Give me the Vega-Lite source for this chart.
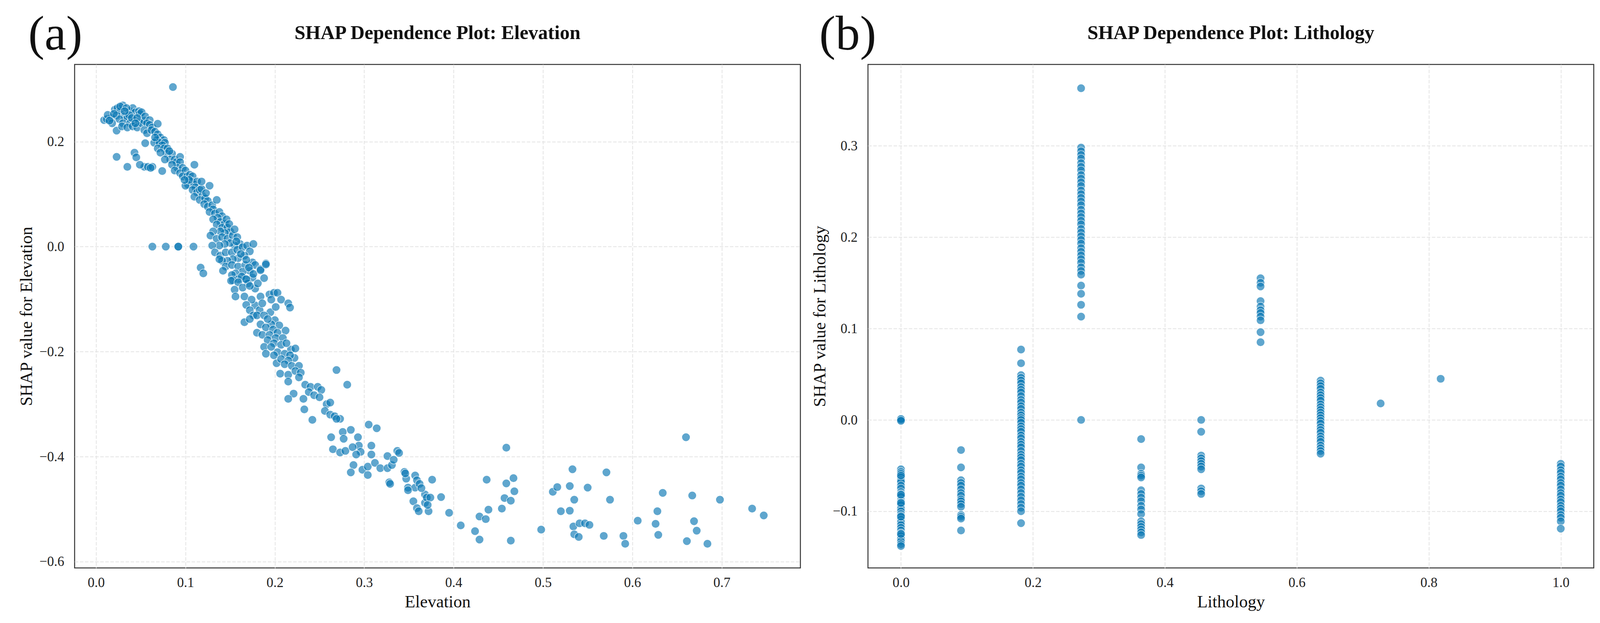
{
  "$schema": "https://vega.github.io/schema/vega-lite/v6.json",
  "background": "white",
  "padding": {"left": 45, "top": 26, "right": 37, "bottom": 20},
  "datasets": {
    "elev": [
      {"value":0.009,"shap":0.241},{"value":0.012,"shap":0.243},{"value":0.017,"shap":0.245},{"value":0.021,"shap":0.261},{"value":0.024,"shap":0.264},{"value":0.027,"shap":0.258},{"value":0.030,"shap":0.269},{"value":0.032,"shap":0.248},{"value":0.035,"shap":0.245},{"value":0.038,"shap":0.258},{"value":0.041,"shap":0.264},{"value":0.044,"shap":0.256},{"value":0.048,"shap":0.258},{"value":0.049,"shap":0.253},{"value":0.051,"shap":0.256},{"value":0.023,"shap":0.250},{"value":0.026,"shap":0.243},{"value":0.018,"shap":0.235},{"value":0.030,"shap":0.235},{"value":0.038,"shap":0.235},{"value":0.043,"shap":0.240},{"value":0.048,"shap":0.237},{"value":0.023,"shap":0.221},{"value":0.029,"shap":0.229},{"value":0.035,"shap":0.227},{"value":0.041,"shap":0.229},{"value":0.046,"shap":0.227},{"value":0.051,"shap":0.235},{"value":0.054,"shap":0.240},{"value":0.055,"shap":0.248},{"value":0.013,"shap":0.251},{"value":0.020,"shap":0.253},{"value":0.027,"shap":0.267},{"value":0.034,"shap":0.264},{"value":0.037,"shap":0.251},{"value":0.040,"shap":0.245},{"value":0.046,"shap":0.245},{"value":0.032,"shap":0.258},{"value":0.044,"shap":0.235},{"value":0.015,"shap":0.240},{"value":0.060,"shap":0.241},
      {"value":0.057,"shap":0.235},{"value":0.060,"shap":0.232},{"value":0.063,"shap":0.227},{"value":0.069,"shap":0.234},{"value":0.054,"shap":0.222},{"value":0.057,"shap":0.216},{"value":0.062,"shap":0.222},{"value":0.066,"shap":0.219},{"value":0.069,"shap":0.214},{"value":0.072,"shap":0.208},{"value":0.076,"shap":0.203},{"value":0.068,"shap":0.203},{"value":0.065,"shap":0.198},{"value":0.071,"shap":0.198},{"value":0.077,"shap":0.198},{"value":0.074,"shap":0.193},{"value":0.069,"shap":0.187},{"value":0.076,"shap":0.187},{"value":0.080,"shap":0.187},{"value":0.079,"shap":0.177},{"value":0.072,"shap":0.179},{"value":0.085,"shap":0.177},{"value":0.083,"shap":0.166},{"value":0.077,"shap":0.166},{"value":0.088,"shap":0.166},{"value":0.090,"shap":0.161},{"value":0.094,"shap":0.171},{"value":0.094,"shap":0.161},{"value":0.091,"shap":0.150},{"value":0.097,"shap":0.150},{"value":0.085,"shap":0.156},{"value":0.088,"shap":0.145},{"value":0.094,"shap":0.140},{"value":0.100,"shap":0.145},{"value":0.097,"shap":0.134},{"value":0.102,"shap":0.134},{"value":0.105,"shap":0.137},{"value":0.108,"shap":0.134},{"value":0.107,"shap":0.124},{"value":0.103,"shap":0.118},{"value":0.100,"shap":0.116},{"value":0.110,"shap":0.118},{"value":0.113,"shap":0.124},{"value":0.111,"shap":0.113},{"value":0.108,"shap":0.108},{"value":0.113,"shap":0.103},{"value":0.116,"shap":0.108},{"value":0.119,"shap":0.097},{"value":0.110,"shap":0.095},{"value":0.116,"shap":0.089},{"value":0.122,"shap":0.092},{"value":0.125,"shap":0.087},{"value":0.121,"shap":0.081},{"value":0.125,"shap":0.076},{"value":0.130,"shap":0.079},{"value":0.131,"shap":0.071},{"value":0.127,"shap":0.066},{"value":0.133,"shap":0.063},{"value":0.138,"shap":0.066},{"value":0.141,"shap":0.058},{"value":0.136,"shap":0.055},{"value":0.131,"shap":0.052},{"value":0.139,"shap":0.047},{"value":0.144,"shap":0.044},{"value":0.135,"shap":0.042},{"value":0.141,"shap":0.036},{"value":0.147,"shap":0.036},{"value":0.150,"shap":0.029},{"value":0.144,"shap":0.026},{"value":0.139,"shap":0.029},{"value":0.131,"shap":0.029},{"value":0.128,"shap":0.021},{"value":0.135,"shap":0.015},{"value":0.141,"shap":0.018},{"value":0.147,"shap":0.015},{"value":0.153,"shap":0.021},{"value":0.158,"shap":0.018},{"value":0.161,"shap":0.005},{"value":0.155,"shap":0.002},{"value":0.150,"shap":0.007},{"value":0.144,"shap":0.005},{"value":0.138,"shap":0.002},{"value":0.130,"shap":0.002},{"value":0.133,"shap":-0.011},{"value":0.139,"shap":-0.017},{"value":0.145,"shap":-0.011},{"value":0.152,"shap":-0.011},{"value":0.158,"shap":-0.006},{"value":0.164,"shap":-0.001},{"value":0.169,"shap":0.002},{"value":0.176,"shap":0.005},{"value":0.172,"shap":-0.009},{"value":0.166,"shap":-0.017},{"value":0.159,"shap":-0.022},{"value":0.153,"shap":-0.024},{"value":0.147,"shap":-0.027},{"value":0.141,"shap":-0.027},{"value":0.138,"shap":-0.024},{"value":0.145,"shap":-0.038},{"value":0.152,"shap":-0.035},{"value":0.159,"shap":-0.038},{"value":0.167,"shap":-0.035},{"value":0.175,"shap":-0.030},{"value":0.178,"shap":-0.035},{"value":0.190,"shap":-0.032},{"value":0.184,"shap":-0.043},{"value":0.172,"shap":-0.046},{"value":0.164,"shap":-0.048},{"value":0.156,"shap":-0.051},{"value":0.152,"shap":-0.054},{"value":0.159,"shap":-0.062},{"value":0.167,"shap":-0.062},{"value":0.175,"shap":-0.059},{"value":0.153,"shap":-0.064},{"value":0.142,"shap":-0.046},
      {"value":0.146,"shap":0.052},{"value":0.149,"shap":0.043},{"value":0.155,"shap":0.033},{"value":0.157,"shap":0.010},{"value":0.162,"shap":-0.014},{"value":0.168,"shap":-0.025},{"value":0.171,"shap":-0.040},{"value":0.163,"shap":-0.057},{"value":0.170,"shap":-0.070},{"value":0.178,"shap":-0.080},{"value":0.181,"shap":-0.070},{"value":0.188,"shap":-0.060},{"value":0.178,"shap":-0.112},{"value":0.183,"shap":-0.121},{"value":0.195,"shap":-0.125},{"value":0.200,"shap":-0.140},{"value":0.205,"shap":-0.150},{"value":0.196,"shap":-0.148},{"value":0.212,"shap":-0.160},{"value":0.218,"shap":-0.196},{"value":0.202,"shap":-0.222},{"value":0.222,"shap":-0.212},{"value":0.118,"shap":0.110},{"value":0.123,"shap":0.102},{"value":0.104,"shap":0.127},{"value":0.099,"shap":0.127},{"value":0.082,"shap":0.182},{"value":0.066,"shap":0.208},
      {"value":0.110,"shap":0.156},{"value":0.118,"shap":0.124},{"value":0.127,"shap":0.116},{"value":0.135,"shap":0.089},{"value":0.055,"shap":0.197},{"value":0.074,"shap":0.144},{"value":0.023,"shap":0.171},{"value":0.035,"shap":0.152},{"value":0.043,"shap":0.179},{"value":0.045,"shap":0.170},{"value":0.054,"shap":0.152},{"value":0.058,"shap":0.152},{"value":0.063,"shap":0.152},{"value":0.049,"shap":0.156},{"value":0.061,"shap":0.150},{"value":0.063,"shap":0.0},{"value":0.078,"shap":0.0},{"value":0.092,"shap":0.0},{"value":0.092,"shap":0.0},{"value":0.109,"shap":0.0},{"value":0.117,"shap":-0.040},{"value":0.120,"shap":-0.051},{"value":0.086,"shap":0.304},
      {"value":0.151,"shap":-0.065},{"value":0.159,"shap":-0.068},{"value":0.168,"shap":-0.062},{"value":0.176,"shap":-0.052},{"value":0.184,"shap":-0.045},{"value":0.190,"shap":-0.034},{"value":0.155,"shap":-0.082},{"value":0.164,"shap":-0.078},{"value":0.172,"shap":-0.075},{"value":0.156,"shap":-0.095},{"value":0.166,"shap":-0.095},{"value":0.174,"shap":-0.101},{"value":0.184,"shap":-0.095},{"value":0.186,"shap":-0.108},{"value":0.194,"shap":-0.091},{"value":0.199,"shap":-0.088},{"value":0.203,"shap":-0.088},{"value":0.196,"shap":-0.101},{"value":0.201,"shap":-0.115},{"value":0.207,"shap":-0.101},{"value":0.215,"shap":-0.108},{"value":0.217,"shap":-0.116},{"value":0.168,"shap":-0.111},{"value":0.172,"shap":-0.121},{"value":0.176,"shap":-0.131},{"value":0.166,"shap":-0.144},{"value":0.172,"shap":-0.138},{"value":0.180,"shap":-0.131},{"value":0.188,"shap":-0.131},{"value":0.192,"shap":-0.138},{"value":0.184,"shap":-0.148},{"value":0.190,"shap":-0.154},{"value":0.198,"shap":-0.158},{"value":0.180,"shap":-0.164},{"value":0.186,"shap":-0.168},{"value":0.194,"shap":-0.168},{"value":0.203,"shap":-0.164},{"value":0.201,"shap":-0.174},{"value":0.209,"shap":-0.174},{"value":0.192,"shap":-0.178},{"value":0.199,"shap":-0.184},{"value":0.188,"shap":-0.191},{"value":0.196,"shap":-0.191},{"value":0.207,"shap":-0.187},{"value":0.213,"shap":-0.184},{"value":0.223,"shap":-0.194},{"value":0.190,"shap":-0.204},{"value":0.203,"shap":-0.201},{"value":0.211,"shap":-0.204},{"value":0.217,"shap":-0.207},{"value":0.199,"shap":-0.207},{"value":0.207,"shap":-0.214},{"value":0.215,"shap":-0.217},{"value":0.211,"shap":-0.224},{"value":0.219,"shap":-0.227},{"value":0.227,"shap":-0.227},{"value":0.206,"shap":-0.242},{"value":0.215,"shap":-0.244},{"value":0.223,"shap":-0.237},{"value":0.229,"shap":-0.240},{"value":0.269,"shap":-0.235},{"value":0.281,"shap":-0.263},{"value":0.215,"shap":-0.257},{"value":0.227,"shap":-0.249},{"value":0.234,"shap":-0.263},{"value":0.240,"shap":-0.267},{"value":0.248,"shap":-0.267},{"value":0.252,"shap":-0.273},{"value":0.238,"shap":-0.277},{"value":0.244,"shap":-0.283},{"value":0.250,"shap":-0.287},{"value":0.221,"shap":-0.280},{"value":0.215,"shap":-0.290},{"value":0.232,"shap":-0.290},{"value":0.233,"shap":-0.310},{"value":0.242,"shap":-0.330},{"value":0.258,"shap":-0.300},{"value":0.262,"shap":-0.297},{"value":0.256,"shap":-0.313},{"value":0.262,"shap":-0.320},{"value":0.267,"shap":-0.323},{"value":0.273,"shap":-0.328},{"value":0.269,"shap":-0.328},{"value":0.263,"shap":-0.363},{"value":0.276,"shap":-0.353},{"value":0.285,"shap":-0.349},{"value":0.277,"shap":-0.366},{"value":0.293,"shap":-0.363},{"value":0.294,"shap":-0.379},{"value":0.296,"shap":-0.391},{"value":0.305,"shap":-0.339},{"value":0.314,"shap":-0.346},{"value":0.265,"shap":-0.386},{"value":0.273,"shap":-0.392},{"value":0.279,"shap":-0.389},{"value":0.287,"shap":-0.382},{"value":0.291,"shap":-0.396},{"value":0.308,"shap":-0.379},{"value":0.308,"shap":-0.396},{"value":0.288,"shap":-0.416},{"value":0.285,"shap":-0.430},{"value":0.298,"shap":-0.425},{"value":0.304,"shap":-0.419},{"value":0.304,"shap":-0.435},{"value":0.312,"shap":-0.412},{"value":0.318,"shap":-0.422},{"value":0.326,"shap":-0.422},{"value":0.326,"shap":-0.399},{"value":0.337,"shap":-0.389},{"value":0.331,"shap":-0.416},{"value":0.333,"shap":-0.406},{"value":0.328,"shap":-0.449},{"value":0.329,"shap":-0.452},{"value":0.345,"shap":-0.429},{"value":0.347,"shap":-0.442},{"value":0.349,"shap":-0.459},{"value":0.357,"shap":-0.459},{"value":0.357,"shap":-0.436},{"value":0.359,"shap":-0.445},{"value":0.362,"shap":-0.452},{"value":0.355,"shap":-0.485},{"value":0.359,"shap":-0.498},{"value":0.368,"shap":-0.472},{"value":0.368,"shap":-0.488},
      {"value":0.370,"shap":-0.478},{"value":0.374,"shap":-0.478},{"value":0.376,"shap":-0.444},{"value":0.386,"shap":-0.477},{"value":0.372,"shap":-0.504},{"value":0.395,"shap":-0.507},{"value":0.361,"shap":-0.504},{"value":0.371,"shap":-0.492},{"value":0.364,"shap":-0.460},{"value":0.349,"shap":-0.464},{"value":0.346,"shap":-0.432},{"value":0.339,"shap":-0.393},{"value":0.408,"shap":-0.531},{"value":0.424,"shap":-0.542},{"value":0.429,"shap":-0.558},{"value":0.429,"shap":-0.514},{"value":0.436,"shap":-0.519},{"value":0.439,"shap":-0.501},{"value":0.437,"shap":-0.444},{"value":0.454,"shap":-0.499},{"value":0.457,"shap":-0.479},{"value":0.464,"shap":-0.484},{"value":0.459,"shap":-0.451},{"value":0.467,"shap":-0.441},{"value":0.468,"shap":-0.466},{"value":0.464,"shap":-0.560},{"value":0.459,"shap":-0.383},{"value":0.498,"shap":-0.539},{"value":0.511,"shap":-0.467},{"value":0.516,"shap":-0.458},{"value":0.520,"shap":-0.504},{"value":0.530,"shap":-0.503},{"value":0.530,"shap":-0.456},{"value":0.533,"shap":-0.424},{"value":0.535,"shap":-0.482},{"value":0.534,"shap":-0.533},{"value":0.541,"shap":-0.527},{"value":0.547,"shap":-0.527},{"value":0.552,"shap":-0.530},{"value":0.535,"shap":-0.548},{"value":0.540,"shap":-0.553},{"value":0.550,"shap":-0.459},{"value":0.571,"shap":-0.430},{"value":0.575,"shap":-0.482},{"value":0.568,"shap":-0.551},{"value":0.590,"shap":-0.551},{"value":0.592,"shap":-0.566},{"value":0.606,"shap":-0.522},{"value":0.626,"shap":-0.528},{"value":0.628,"shap":-0.504},{"value":0.629,"shap":-0.549},{"value":0.634,"shap":-0.469},{"value":0.660,"shap":-0.363},{"value":0.661,"shap":-0.561},{"value":0.667,"shap":-0.474},{"value":0.669,"shap":-0.523},{"value":0.672,"shap":-0.541},{"value":0.684,"shap":-0.566},{"value":0.698,"shap":-0.482},{"value":0.734,"shap":-0.499},{"value":0.747,"shap":-0.512}
    ],
    "litho": [
      {"value":0,"shap":0.0},{"value":0,"shap":0.0},{"value":0,"shap":0.001},{"value":0,"shap":-0.001},{"value":0,"shap":-0.054},{"value":0,"shap":-0.057},{"value":0,"shap":-0.059},{"value":0,"shap":-0.063},{"value":0,"shap":-0.066},{"value":0,"shap":-0.068},{"value":0,"shap":-0.072},{"value":0,"shap":-0.075},{"value":0,"shap":-0.079},{"value":0,"shap":-0.081},{"value":0,"shap":-0.084},{"value":0,"shap":-0.088},{"value":0,"shap":-0.090},{"value":0,"shap":-0.093},{"value":0,"shap":-0.097},{"value":0,"shap":-0.100},{"value":0,"shap":-0.103},{"value":0,"shap":-0.105},{"value":0,"shap":-0.109},{"value":0,"shap":-0.112},{"value":0,"shap":-0.115},{"value":0,"shap":-0.118},{"value":0,"shap":-0.121},{"value":0,"shap":-0.124},{"value":0,"shap":-0.127},{"value":0,"shap":-0.130},{"value":0,"shap":-0.133},{"value":0,"shap":-0.136},{"value":0,"shap":-0.138},{"value":0,"shap":-0.061},{"value":0,"shap":-0.082},{"value":0,"shap":-0.091},{"value":0,"shap":-0.106},{"value":0,"shap":-0.125},
      {"value":0.091,"shap":-0.033},{"value":0.091,"shap":-0.052},{"value":0.091,"shap":-0.066},{"value":0.091,"shap":-0.069},{"value":0.091,"shap":-0.072},{"value":0.091,"shap":-0.076},{"value":0.091,"shap":-0.080},{"value":0.091,"shap":-0.083},{"value":0.091,"shap":-0.087},{"value":0.091,"shap":-0.089},{"value":0.091,"shap":-0.092},{"value":0.091,"shap":-0.095},{"value":0.091,"shap":-0.104},{"value":0.091,"shap":-0.106},{"value":0.091,"shap":-0.108},{"value":0.091,"shap":-0.121},
      {"value":0.182,"shap":0.077},{"value":0.182,"shap":0.062},{"value":0.182,"shap":0.049},{"value":0.182,"shap":0.046},{"value":0.182,"shap":0.043},{"value":0.182,"shap":0.040},{"value":0.182,"shap":0.036},{"value":0.182,"shap":0.033},{"value":0.182,"shap":0.030},{"value":0.182,"shap":0.026},{"value":0.182,"shap":0.022},{"value":0.182,"shap":0.019},{"value":0.182,"shap":0.015},{"value":0.182,"shap":0.012},{"value":0.182,"shap":0.008},{"value":0.182,"shap":0.005},{"value":0.182,"shap":0.002},{"value":0.182,"shap":0.0},{"value":0.182,"shap":-0.003},{"value":0.182,"shap":-0.007},{"value":0.182,"shap":-0.010},{"value":0.182,"shap":-0.013},{"value":0.182,"shap":-0.017},{"value":0.182,"shap":-0.020},{"value":0.182,"shap":-0.024},{"value":0.182,"shap":-0.027},{"value":0.182,"shap":-0.030},{"value":0.182,"shap":-0.034},{"value":0.182,"shap":-0.038},{"value":0.182,"shap":-0.041},{"value":0.182,"shap":-0.044},{"value":0.182,"shap":-0.048},{"value":0.182,"shap":-0.051},{"value":0.182,"shap":-0.055},{"value":0.182,"shap":-0.058},{"value":0.182,"shap":-0.062},{"value":0.182,"shap":-0.065},{"value":0.182,"shap":-0.069},{"value":0.182,"shap":-0.072},{"value":0.182,"shap":-0.076},{"value":0.182,"shap":-0.080},{"value":0.182,"shap":-0.084},{"value":0.182,"shap":-0.088},{"value":0.182,"shap":-0.092},{"value":0.182,"shap":-0.096},{"value":0.182,"shap":-0.100},{"value":0.182,"shap":-0.113},
      {"value":0.273,"shap":0.363},{"value":0.273,"shap":0.298},{"value":0.273,"shap":0.294},{"value":0.273,"shap":0.290},{"value":0.273,"shap":0.286},{"value":0.273,"shap":0.281},{"value":0.273,"shap":0.277},{"value":0.273,"shap":0.273},{"value":0.273,"shap":0.268},{"value":0.273,"shap":0.264},{"value":0.273,"shap":0.260},{"value":0.273,"shap":0.256},{"value":0.273,"shap":0.251},{"value":0.273,"shap":0.247},{"value":0.273,"shap":0.243},{"value":0.273,"shap":0.239},{"value":0.273,"shap":0.235},{"value":0.273,"shap":0.230},{"value":0.273,"shap":0.226},{"value":0.273,"shap":0.222},{"value":0.273,"shap":0.218},{"value":0.273,"shap":0.214},{"value":0.273,"shap":0.209},{"value":0.273,"shap":0.205},{"value":0.273,"shap":0.201},{"value":0.273,"shap":0.197},{"value":0.273,"shap":0.193},{"value":0.273,"shap":0.188},{"value":0.273,"shap":0.184},{"value":0.273,"shap":0.180},{"value":0.273,"shap":0.176},{"value":0.273,"shap":0.172},{"value":0.273,"shap":0.167},{"value":0.273,"shap":0.163},{"value":0.273,"shap":0.159},{"value":0.273,"shap":0.147},{"value":0.273,"shap":0.138},{"value":0.273,"shap":0.126},{"value":0.273,"shap":0.113},{"value":0.273,"shap":0.0},
      {"value":0.364,"shap":-0.021},{"value":0.364,"shap":-0.052},{"value":0.364,"shap":-0.059},{"value":0.364,"shap":-0.061},{"value":0.364,"shap":-0.063},{"value":0.364,"shap":-0.077},{"value":0.364,"shap":-0.081},{"value":0.364,"shap":-0.085},{"value":0.364,"shap":-0.089},{"value":0.364,"shap":-0.094},{"value":0.364,"shap":-0.098},{"value":0.364,"shap":-0.103},{"value":0.364,"shap":-0.111},{"value":0.364,"shap":-0.114},{"value":0.364,"shap":-0.117},{"value":0.364,"shap":-0.120},{"value":0.364,"shap":-0.123},{"value":0.364,"shap":-0.126},
      {"value":0.455,"shap":0.0},{"value":0.455,"shap":-0.013},{"value":0.455,"shap":-0.039},{"value":0.455,"shap":-0.042},{"value":0.455,"shap":-0.045},{"value":0.455,"shap":-0.048},{"value":0.455,"shap":-0.051},{"value":0.455,"shap":-0.054},{"value":0.455,"shap":-0.075},{"value":0.455,"shap":-0.078},{"value":0.455,"shap":-0.081},
      {"value":0.545,"shap":0.155},{"value":0.545,"shap":0.150},{"value":0.545,"shap":0.146},{"value":0.545,"shap":0.130},{"value":0.545,"shap":0.124},{"value":0.545,"shap":0.120},{"value":0.545,"shap":0.117},{"value":0.545,"shap":0.113},{"value":0.545,"shap":0.109},{"value":0.545,"shap":0.096},{"value":0.545,"shap":0.085},
      {"value":0.636,"shap":0.043},{"value":0.636,"shap":0.040},{"value":0.636,"shap":0.037},{"value":0.636,"shap":0.034},{"value":0.636,"shap":0.030},{"value":0.636,"shap":0.027},{"value":0.636,"shap":0.024},{"value":0.636,"shap":0.021},{"value":0.636,"shap":0.017},{"value":0.636,"shap":0.014},{"value":0.636,"shap":0.011},{"value":0.636,"shap":0.008},{"value":0.636,"shap":0.005},{"value":0.636,"shap":0.002},{"value":0.636,"shap":-0.001},{"value":0.636,"shap":-0.004},{"value":0.636,"shap":-0.008},{"value":0.636,"shap":-0.011},{"value":0.636,"shap":-0.014},{"value":0.636,"shap":-0.018},{"value":0.636,"shap":-0.021},{"value":0.636,"shap":-0.024},{"value":0.636,"shap":-0.028},{"value":0.636,"shap":-0.031},{"value":0.636,"shap":-0.034},{"value":0.636,"shap":-0.037},
      {"value":0.727,"shap":0.018},{"value":0.818,"shap":0.045},
      {"value":1,"shap":-0.048},{"value":1,"shap":-0.051},{"value":1,"shap":-0.055},{"value":1,"shap":-0.058},{"value":1,"shap":-0.062},{"value":1,"shap":-0.065},{"value":1,"shap":-0.069},{"value":1,"shap":-0.072},{"value":1,"shap":-0.076},{"value":1,"shap":-0.080},{"value":1,"shap":-0.083},{"value":1,"shap":-0.087},{"value":1,"shap":-0.090},{"value":1,"shap":-0.094},{"value":1,"shap":-0.097},{"value":1,"shap":-0.100},{"value":1,"shap":-0.104},{"value":1,"shap":-0.107},{"value":1,"shap":-0.111},{"value":1,"shap":-0.119}
    ]
  },
  "config": {
    "font": "Liberation Serif",
    "view": {"stroke": "#333333", "strokeWidth": 2.5},
    "title": {"font": "Liberation Serif", "fontSize": 50, "fontWeight": "bold", "color": "#111111", "baseline": "alphabetic", "offset": 55},
    "axis": {
      "domain": false,
      "ticks": false,
      "grid": true,
      "gridColor": "#e3e3e3",
      "gridDash": [9, 4],
      "gridWidth": 2,
      "labelFont": "Liberation Serif",
      "labelFontSize": 35,
      "labelColor": "#222222",
      "titleFont": "Liberation Serif",
      "titleFontSize": 44,
      "titleFontWeight": "normal",
      "titleColor": "#111111"
    },
    "axisX": {"labelPadding": 20, "titlePadding": 10},
    "axisY": {"labelPadding": 27, "titlePadding": 10}
  },
  "spacing": 25,
  "hconcat": [
    {
      "title": {"text": "(a)", "anchor": "start", "fontSize": 125, "fontWeight": "normal", "offset": -94, "dx": 27},
      "vconcat": [
        {
          "title": "SHAP Dependence Plot: Elevation",
          "data": {"name": "elev"},
          "width": 1858,
          "height": 1289,
          "mark": {"type": "circle", "size": 470, "color": "#0a78b4", "opacity": 0.65, "stroke": "white", "strokeWidth": 1.5},
          "encoding": {
            "x": {
              "field": "value",
              "type": "quantitative",
              "title": "Elevation",
              "scale": {"domain": [-0.024, 0.788], "nice": false, "zero": false},
              "axis": {"values": [0, 0.1, 0.2, 0.3, 0.4, 0.5, 0.6, 0.7], "format": ".1f"}
            },
            "y": {
              "field": "shap",
              "type": "quantitative",
              "title": "SHAP value for Elevation",
              "scale": {"domain": [-0.612, 0.347], "nice": false, "zero": false},
              "axis": {"values": [-0.6, -0.4, -0.2, 0, 0.2], "format": ".1f"}
            }
          }
        }
      ]
    },
    {
      "title": {"text": "(b)", "anchor": "start", "fontSize": 125, "fontWeight": "normal", "offset": -94, "dx": 21},
      "vconcat": [
        {
          "title": "SHAP Dependence Plot: Lithology",
          "data": {"name": "litho"},
          "width": 1858,
          "height": 1289,
          "mark": {"type": "circle", "size": 470, "color": "#0a78b4", "opacity": 0.65, "stroke": "white", "strokeWidth": 1.5},
          "encoding": {
            "x": {
              "field": "value",
              "type": "quantitative",
              "title": "Lithology",
              "scale": {"domain": [-0.05, 1.05], "nice": false, "zero": false},
              "axis": {"values": [0, 0.2, 0.4, 0.6, 0.8, 1.0], "format": ".1f"}
            },
            "y": {
              "field": "shap",
              "type": "quantitative",
              "title": "SHAP value for Lithology",
              "scale": {"domain": [-0.162, 0.389], "nice": false, "zero": false},
              "axis": {"values": [-0.1, 0, 0.1, 0.2, 0.3], "format": ".1f"}
            }
          }
        }
      ]
    }
  ]
}
